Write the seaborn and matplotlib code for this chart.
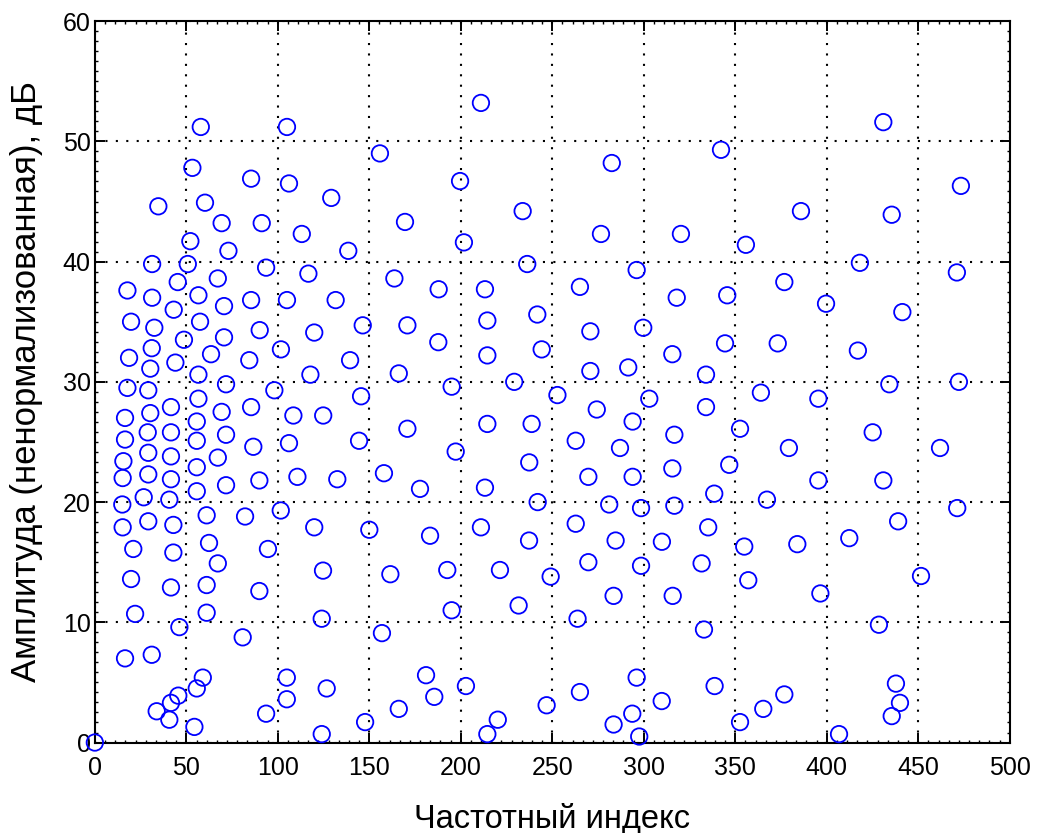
import matplotlib
matplotlib.use("Agg")
import matplotlib.pyplot as plt
import seaborn as sns
import pandas as pd
from matplotlib.ticker import AutoMinorLocator

# Frequency index of each detected peak
freq_index = [
    57.9, 105.0, 53.3, 85.4, 106.1, 34.7, 60.2, 69.3, 91.2, 113.1, 52.2, 73.0, 31.3, 50.8,
    93.6, 116.7, 45.3, 67.2, 17.8, 31.3, 56.6, 85.4, 105.0, 43.1, 70.6, 19.8, 32.5, 57.5,
    90.1, 119.9, 48.7, 70.6, 31.1, 18.7, 63.5, 101.7, 44.0, 84.4, 30.3, 56.6, 117.8,
    17.8, 29.2, 71.7, 98.1, 41.6, 56.6, 85.4, 16.5, 30.3, 69.3, 55.7, 108.5, 124.8, 16.5,
    28.9, 41.6, 55.7, 71.7, 106.1, 86.6, 15.6, 29.2, 41.6, 67.2, 55.7, 15.2, 29.2, 41.6,
    89.9, 71.7, 110.7, 55.7, 15.0, 26.7, 40.7, 101.6, 61.1, 82.1, 15.2, 29.2, 42.9, 119.9,
    21.0, 42.9, 62.4, 94.6, 67.2, 124.7, 19.8, 41.6, 61.1, 89.9, 22.0, 61.1, 124.0, 46.2,
    80.8, 16.5, 31.1, 59.0, 55.7, 104.9, 104.9, 126.7, 45.6, 41.6, 33.8, 40.7, 93.6, 54.4,
    0.0, 124.0,
    211.0, 155.8, 199.6, 129.2, 233.8, 169.5, 201.7, 138.5, 236.3, 163.7, 187.9, 213.2,
    131.6, 241.8, 146.4, 170.8, 214.5, 187.7, 214.5, 244.2, 139.5, 166.1, 195.0, 229.2,
    145.5, 144.4, 170.8, 197.2, 214.5, 238.7, 252.8, 237.4, 132.5, 158.0, 177.7, 213.2,
    242.0, 150.0, 183.2, 211.0, 237.3, 161.5, 192.6, 221.4, 249.1, 195.0, 231.6, 156.9,
    181.0, 185.5, 202.8, 166.1, 246.9, 147.7, 220.2, 214.5,
    342.2, 282.5, 385.9, 276.6, 320.3, 355.8, 296.1, 265.1, 318.0, 345.6, 376.8, 270.8,
    299.7, 344.4, 373.2, 315.6, 270.8, 291.5, 334.0, 364.0,
    274.3, 303.0, 334.0, 293.9, 316.7, 352.6, 262.8, 287.0, 379.3, 315.6, 346.7, 269.7,
    293.9, 338.5, 367.3, 281.1, 298.5, 316.7, 262.8, 335.2, 284.6, 309.9, 354.9, 383.9,
    269.7, 298.5, 331.6, 357.1, 283.5, 315.8, 263.8, 332.9, 296.1, 265.1, 309.8, 338.7,
    293.7, 283.5, 297.5, 352.6, 365.3, 376.8,
    430.9, 473.3, 435.5, 418.1, 471.1, 399.6, 441.3, 417.0, 434.2, 472.2,
    395.4, 425.1, 461.9, 395.4, 430.9, 471.3, 439.0, 412.3, 451.5, 396.5, 428.5, 437.8,
    440.0, 435.5, 406.7,
]

# Peak amplitude (not normalised), dB
amplitude_db = [
    51.2, 51.2, 47.8, 46.9, 46.5, 44.6, 44.9, 43.2, 43.2, 42.3, 41.7, 40.9, 39.8, 39.8,
    39.5, 39.0, 38.3, 38.6, 37.6, 37.0, 37.2, 36.8, 36.8, 36.0, 36.3, 35.0, 34.5, 35.0,
    34.3, 34.1, 33.5, 33.7, 32.8, 32.0, 32.3, 32.7, 31.6, 31.8, 31.1, 30.6, 30.6,
    29.5, 29.3, 29.8, 29.3, 27.9, 28.6, 27.9, 27.0, 27.4, 27.5, 26.7, 27.2, 27.2, 25.2,
    25.8, 25.8, 25.1, 25.6, 24.9, 24.6, 23.4, 24.1, 23.8, 23.7, 22.9, 22.0, 22.3, 21.9,
    21.8, 21.4, 22.1, 20.9, 19.8, 20.4, 20.2, 19.3, 18.9, 18.8, 17.9, 18.4, 18.1, 17.9,
    16.1, 15.8, 16.6, 16.1, 14.9, 14.3, 13.6, 12.9, 13.1, 12.6, 10.7, 10.8, 10.3, 9.6,
    8.75, 7.0, 7.3, 5.4, 4.5, 5.4, 3.6, 4.5, 3.9, 3.3, 2.6, 1.9, 2.4, 1.3,
    0.0, 0.7,
    53.2, 49.0, 46.7, 45.3, 44.2, 43.3, 41.6, 40.9, 39.8, 38.6, 37.7, 37.7,
    36.8, 35.6, 34.7, 34.7, 35.1, 33.3, 32.2, 32.7, 31.8, 30.7, 29.6, 30.0,
    28.8, 25.1, 26.1, 24.2, 26.5, 26.5, 28.9, 23.3, 21.9, 22.4, 21.1, 21.2,
    20.0, 17.7, 17.2, 17.9, 16.8, 14.0, 14.35, 14.35, 13.8, 11.0, 11.4, 9.1,
    5.6, 3.8, 4.7, 2.8, 3.1, 1.7, 1.9, 0.7,
    49.3, 48.2, 44.2, 42.3, 42.3, 41.4, 39.3, 37.9, 37.0, 37.2, 38.3, 34.2,
    34.5, 33.2, 33.2, 32.3, 30.9, 31.2, 30.6, 29.1,
    27.7, 28.6, 27.9, 26.7, 25.6, 26.1, 25.1, 24.5, 24.5, 22.8, 23.1, 22.1,
    22.1, 20.7, 20.2, 19.8, 19.5, 19.7, 18.2, 17.9, 16.8, 16.7, 16.3, 16.5,
    15.0, 14.7, 14.9, 13.5, 12.2, 12.2, 10.3, 9.4, 5.4, 4.2, 3.45, 4.7,
    2.4, 1.5, 0.5, 1.7, 2.8, 4.0,
    51.6, 46.3, 43.9, 39.9, 39.1, 36.5, 35.8, 32.6, 29.8, 30.0,
    28.6, 25.8, 24.5, 21.8, 21.8, 19.5, 18.4, 17.0, 13.85, 12.4, 9.8, 4.9,
    3.3, 2.2, 0.7,
]

x_ticks = [0, 50, 100, 150, 200, 250, 300, 350, 400, 450, 500]
y_ticks = [0, 10, 20, 30, 40, 50, 60]
x_label = "Частотный индекс"
y_label = "Амплитуда (ненормализованная), дБ"

df = pd.DataFrame({"freq": freq_index, "amp": amplitude_db})

sns.set_theme(style="white")
plt.rcParams["font.family"] = ["Liberation Sans", "DejaVu Sans"]

fig = plt.figure(figsize=(10.48, 8.33), dpi=100)
ax = fig.add_axes([0.0905, 0.1086, 0.873, 0.866])

sns.scatterplot(
    data=df, x="freq", y="amp", ax=ax,
    marker="o", s=140, facecolors="none", edgecolors="#0000ff",
    linewidth=1.3, clip_on=False, zorder=3, legend=False,
)

ax.set_xlim(0, 500)
ax.set_ylim(0, 60)
ax.set_xticks(x_ticks)
ax.set_yticks(y_ticks)
ax.xaxis.set_minor_locator(AutoMinorLocator(9))
ax.yaxis.set_minor_locator(AutoMinorLocator(12))

# dotted black grid at the major ticks
ax.grid(True, which="major", color="black", linestyle=(0, (1, 4.0)), linewidth=1.5)
ax.set_axisbelow(True)

for side in ax.spines.values():
    side.set_color("black")
    side.set_linewidth(1.5)
    side.set_visible(True)

ax.tick_params(axis="both", which="major", direction="in", length=7, width=1.4,
               color="black", labelsize=18, labelcolor="black",
               top=True, right=True, bottom=True, left=True)
ax.tick_params(axis="both", which="minor", direction="in", length=2.5, width=1.0,
               color="black", top=True, right=True, bottom=True, left=True)
ax.tick_params(axis="x", which="major", pad=10)
ax.tick_params(axis="y", which="major", pad=3)

ax.set_xlabel(x_label, fontsize=23.5, labelpad=16, color="black")
ax.set_ylabel(y_label, fontsize=25, labelpad=14, color="black")

fig.savefig("out.png", dpi=100, facecolor="white")
